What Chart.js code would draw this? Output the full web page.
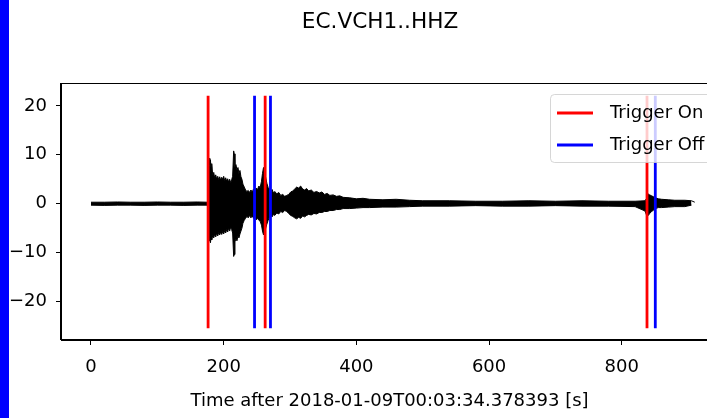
<!DOCTYPE html>
<html>
<head>
<meta charset="utf-8">
<script src="https://cdn.jsdelivr.net/npm/chart.js@4.4.1/dist/chart.umd.min.js"></script>
<style>
  html, body { margin: 0; padding: 0; background: #fff; }
  body { width: 707px; height: 418px; overflow: hidden; position: relative; }
  #wrap { position: absolute; left: 0; top: 0; width: 760px; height: 418px; }
  #edge { position: absolute; left: 0; top: 0; width: 9px; height: 418px; background: #0000ff; }
</style>
</head>
<body>
<div id="wrap"><canvas id="seismo" width="760" height="418"></canvas></div>
<div id="edge"></div>
<script>
// trace envelope: time [s], upper and lower amplitude
const traceT  = [0, 20, 40, 60, 80, 100, 120, 140, 160, 175, 176, 177, 178, 179, 180, 181, 182, 183.5, 185, 186.5, 188, 189.5, 191, 192.5, 194, 195.5, 197, 198.5, 200, 201.5, 203, 204.5, 206, 207.5, 209, 210.5, 212, 213.5, 215, 216, 217, 218.5, 220, 221.5, 223, 224.5, 226, 227.5, 229, 231, 233, 235, 237, 239, 241, 243, 245, 247, 249, 251, 253, 255, 257, 258.5, 260, 261.5, 263, 265, 267, 269, 271, 273, 275, 277, 280, 283, 286, 289, 292, 295, 298, 301, 304, 307, 310, 313, 316, 319, 322, 325, 328, 332, 336, 340, 344, 348, 352, 356, 360, 365, 370, 375, 380, 390, 400, 410, 420, 440, 460, 480, 500, 540, 580, 620, 660, 700, 740, 780, 820, 835, 838, 840, 842, 845, 848, 851, 855, 860, 870, 880, 895, 905, 910];
const traceUp = [0.3, 0.3, 0.35, 0.3, 0.3, 0.35, 0.3, 0.3, 0.35, 0.3, 0.5, 6.5, 9.3, 7.8, 9.0, 7.2, 8.2, 5.8, 6.4, 5.2, 5.9, 5.0, 5.6, 4.9, 5.5, 4.8, 5.4, 5.0, 5.6, 4.7, 5.3, 4.6, 5.1, 4.4, 5.0, 4.3, 4.9, 5.6, 10.8, 10.2, 7.5, 8.0, 6.9, 7.4, 6.2, 6.8, 5.5, 5.0, 4.0, 3.4, 2.8, 2.5, 2.7, 2.3, 2.8, 2.4, 3.0, 2.6, 3.2, 2.9, 3.6, 3.3, 4.6, 6.2, 7.4, 6.8, 5.6, 4.2, 3.3, 3.0, 2.6, 2.9, 2.2, 2.5, 2.0, 2.3, 1.7, 1.9, 1.5, 1.7, 1.9, 2.4, 2.6, 3.0, 3.4, 3.2, 3.6, 3.0, 2.8, 3.1, 2.6, 2.8, 2.3, 2.5, 2.2, 2.4, 1.9, 2.1, 1.7, 1.8, 1.5, 1.6, 1.3, 1.2, 1.0, 1.1, 0.9, 0.8, 0.9, 0.7, 0.6, 0.6, 0.5, 0.5, 0.6, 0.5, 0.6, 0.5, 0.5, 0.6, 1.2, 2.0, 1.8, 1.6, 1.4, 1.2, 1.0, 0.9, 0.8, 0.7, 0.7, 0.6, 0.3];
const traceLo = [-0.3, -0.35, -0.3, -0.3, -0.35, -0.3, -0.3, -0.35, -0.3, -0.3, -0.5, -5.5, -7.6, -6.8, -8.0, -7.0, -7.4, -6.5, -7.0, -6.2, -6.8, -6.0, -6.6, -5.9, -6.4, -5.8, -6.3, -5.7, -6.2, -5.5, -6.0, -5.3, -5.8, -5.0, -5.6, -4.8, -5.3, -6.0, -10.8, -10.4, -7.8, -7.2, -7.6, -6.6, -7.0, -6.2, -5.6, -5.0, -4.0, -3.4, -3.0, -2.6, -2.9, -2.4, -2.9, -2.5, -3.0, -2.7, -3.3, -3.0, -3.4, -3.6, -4.4, -5.6, -6.4, -6.0, -5.2, -4.2, -3.4, -2.8, -2.4, -2.7, -2.2, -2.4, -1.9, -2.1, -1.6, -1.8, -1.4, -1.6, -2.0, -2.4, -2.6, -2.9, -3.1, -2.8, -3.0, -2.5, -2.7, -2.4, -2.2, -2.3, -2.0, -2.1, -1.8, -1.8, -1.6, -1.6, -1.4, -1.4, -1.2, -1.2, -1.0, -1.0, -0.9, -0.8, -0.8, -0.7, -0.7, -0.6, -0.5, -0.5, -0.4, -0.5, -0.5, -0.4, -0.5, -0.5, -0.6, -1.5, -2.6, -2.4, -2.0, -1.6, -1.3, -1.0, -0.8, -0.8, -0.7, -0.6, -0.6, -0.3];

// STA/LTA trigger times [s]
const trigOn  = [176.5, 262.5, 838];
const trigOff = [246.5, 270.5, 850.5];
const vlineMin = -25.5;
const vlineMax = 22.1;

const xTicks = [0, 200, 400, 600, 800];
const yTicks = [-20, -10, 0, 10, 20];
const xMin = -45.2, xMax = 945;
const yMin = -27.9, yMax = 24.7;

const chartTitle = 'EC.VCH1..HHZ';
const xLabel = 'Time after 2018-01-09T00:03:34.378393 [s]';

const FONT = 'DejaVu Sans';
Chart.defaults.font.family = FONT;
Chart.defaults.font.size = 18;
Chart.defaults.color = '#000';

const vlines = (times) => times.flatMap(t => [{x: t, y: vlineMin}, {x: t, y: vlineMax}, {x: t, y: null}]);

// matplotlib puts the title over the figure, a bit left of the axes centre here
const titlePlugin = {
    id: 'figTitle',
    afterDraw(chart) {
        const {ctx} = chart;
        ctx.save();
        ctx.fillStyle = '#000';
        ctx.font = '21.6px "' + FONT + '"';
        ctx.textAlign = 'center';
        ctx.textBaseline = 'middle';
        ctx.fillText(chartTitle, 380, 22);
        ctx.restore();
    }
};

const framePlugin = {
    id: 'frame',
    afterDatasetsDraw(chart) {
        const {ctx, chartArea: a} = chart;
        ctx.save();
        ctx.strokeStyle = '#000';
        ctx.lineWidth = 1;
        ctx.strokeRect(Math.round(a.left) - 0.5, Math.round(a.top) + 0.5, Math.round(a.right - a.left), Math.round(a.bottom - a.top) - 1);
        ctx.restore();
    }
};

const legendPlugin = {
    id: 'boxLegend',
    afterDraw(chart) {
        const {ctx} = chart;
        const items = chart.data.datasets.filter(d => d.inLegend);
        ctx.save();
        ctx.beginPath();
        ctx.roundRect(550.5, 94.5, 161, 68, 4);
        ctx.fillStyle = 'rgba(255,255,255,0.8)';
        ctx.fill();
        ctx.strokeStyle = 'rgba(204,204,204,0.8)';
        ctx.lineWidth = 1;
        ctx.stroke();
        items.forEach((d, i) => {
            const y = 113 + i * 32;
            ctx.strokeStyle = d.borderColor;
            ctx.lineWidth = d.borderWidth;
            ctx.beginPath();
            ctx.moveTo(557, y);
            ctx.lineTo(593, y);
            ctx.stroke();
            ctx.fillStyle = '#000';
            ctx.font = '18px "' + FONT + '"';
            ctx.textBaseline = 'middle';
            ctx.fillText(d.label, 610, y);
        });
        ctx.restore();
    }
};

new Chart(document.getElementById('seismo'), {
    type: 'line',
    data: {
        datasets: [
            {
                label: 'trace',
                data: traceT.map((t, i) => ({x: t, y: traceUp[i]})),
                borderColor: '#000',
                borderWidth: 1,
                pointRadius: 0,
                fill: false,
                order: 3
            },
            {
                label: 'trace low',
                data: traceT.map((t, i) => ({x: t, y: traceLo[i]})),
                borderColor: '#000',
                backgroundColor: '#000',
                borderWidth: 1,
                pointRadius: 0,
                fill: '-1',
                order: 3
            },
            {
                label: 'Trigger On',
                inLegend: true,
                data: vlines(trigOn),
                borderColor: '#ff0000',
                borderWidth: 2.8,
                pointRadius: 0,
                spanGaps: false,
                order: 2
            },
            {
                label: 'Trigger Off',
                inLegend: true,
                data: vlines(trigOff),
                borderColor: '#0000ff',
                borderWidth: 2.8,
                pointRadius: 0,
                spanGaps: false,
                order: 1
            }
        ]
    },
    options: {
        responsive: false,
        animation: false,
        layout: { padding: { left: 0, right: 42, top: 83, bottom: 0 } },
        elements: { line: { tension: 0 } },
        plugins: {
            legend: { display: false },
            tooltip: { enabled: false },
            title: { display: false }
        },
        scales: {
            x: {
                type: 'linear',
                min: xMin,
                max: xMax,
                afterBuildTicks: s => { s.ticks = xTicks.map(v => ({value: v})); },
                afterFit: s => { s.height = 78; },
                ticks: { padding: 12, color: '#000', callback: v => v },
                grid: { drawOnChartArea: false, drawTicks: true, tickLength: 5, color: '#000' },
                border: { display: true, color: '#000', width: 1 },
                title: {
                    display: true,
                    text: xLabel,
                    color: '#000',
                    padding: { top: 0, bottom: 6 }
                }
            },
            y: {
                type: 'linear',
                min: yMin,
                max: yMax,
                afterBuildTicks: s => { s.ticks = yTicks.map(v => ({value: v})); },
                afterFit: s => { s.width = 61; },
                ticks: { padding: 9, color: '#000', callback: v => v < 0 ? '\u2212' + Math.abs(v) : String(v) },
                grid: { drawOnChartArea: false, drawTicks: true, tickLength: 5, color: '#000' },
                border: { display: true, color: '#000', width: 1 }
            }
        }
    },
    plugins: [titlePlugin, framePlugin, legendPlugin]
});
</script>
</body>
</html>
